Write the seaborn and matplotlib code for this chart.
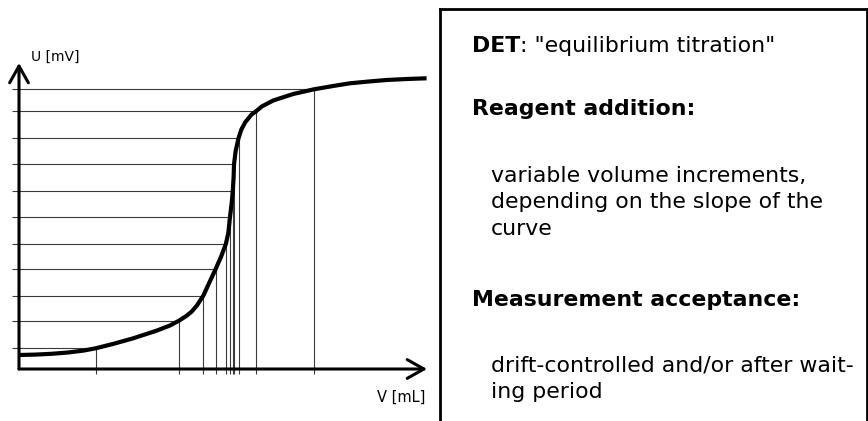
import matplotlib
matplotlib.use("Agg")
import matplotlib.pyplot as plt
from matplotlib.lines import Line2D
import seaborn as sns

sns.set_style("white")
plt.rcParams["font.family"] = ["DejaVu Sans"]
plt.rcParams["text.color"] = "black"

# Titration curve: potential U [mV] against added volume V [mL]
curve_v = [0.00, 0.40, 0.80, 1.20, 1.58, 1.88, 2.30, 2.80, 3.37, 3.70, 3.92,
           4.10, 4.23, 4.36, 4.52, 4.66, 4.82, 4.95, 5.07, 5.13, 5.17, 5.21,
           5.24, 5.26, 5.27, 5.31, 5.38, 5.45, 5.55, 5.70, 5.81, 5.95, 6.23,
           6.72, 7.23, 7.70, 8.11, 8.60, 9.01, 9.50, 9.99]
curve_u = [14.0, 14.4, 15.2, 16.5, 18.4, 20.7, 25.0, 30.7, 38.3, 43.5, 48.3,
           53.0, 57.3, 63.5, 73.5, 86.0, 100.0, 112.0, 125.0, 136.0, 151.7, 165.0,
           178.3, 192.0, 204.7, 218.0, 230.7, 239.5, 247.0, 254.5, 257.7, 262.5, 268.5,
           275.0, 279.7, 283.0, 285.7, 287.6, 289.0, 290.0, 290.7]

# Measuring points (volume increments depend on the slope)
point_v = [1.88, 3.92, 4.52, 4.82, 5.07, 5.17, 5.24, 5.27, 5.38, 5.81, 7.23]
point_u = [20.7, 48.3, 73.5, 100.0, 125.0, 151.7, 178.3, 204.7, 230.7, 257.7, 279.7]

x_label = "V [mL]"
y_label = "U [mV]"

W, H = 868, 421
fig = plt.figure(figsize=(W / 100, H / 100), dpi=100)
fig.patch.set_facecolor("white")


def fx(px):
    return px / W


def fy(py):
    return 1 - py / H


ax = fig.add_axes([fx(19), fy(369), 408 / W, 306 / H])
ax.set_xlim(0, 10)
ax.set_ylim(0, 306)
ax.axis("off")

# guide lines from each measuring point to the axes
ax.hlines(point_u, -0.18, point_v, color="#3a3a3a", lw=0.8, clip_on=False, zorder=1)
ax.vlines(point_v, -4.5, point_u, color="#3a3a3a", lw=0.8, clip_on=False, zorder=1)

# axes drawn as arrows
arrow_kw = dict(arrowstyle="->,head_length=0.8,head_width=0.45", lw=2.2,
                color="black", shrinkA=0, shrinkB=0, mutation_scale=15)
ax.annotate("", xy=(10.0, 0), xytext=(0, 0), arrowprops=arrow_kw,
            annotation_clip=False, zorder=4)
ax.annotate("", xy=(0, 306), xytext=(0, 0), arrowprops=arrow_kw,
            annotation_clip=False, zorder=4)

sns.lineplot(x=curve_v, y=curve_u, sort=False, estimator=None, color="black",
             lw=3.0, ax=ax, zorder=3)
for ln in ax.lines:
    ln.set_solid_joinstyle("round")
    ln.set_solid_capstyle("butt")

fig.text(fx(31), fy(61), y_label, fontsize=10, va="baseline", ha="left")
fig.text(fx(425), fy(402), x_label, fontsize=10.5, va="baseline", ha="right")

# description panel frame
for xs, ys in [([440, 440], [9, 421]), ([440, 867], [9, 9]), ([867, 867], [9, 421])]:
    fig.add_artist(Line2D([fx(v) for v in xs], [fy(v) for v in ys],
                          transform=fig.transFigure, color="black", lw=2,
                          solid_capstyle="projecting"))

FS = 15.8
t_det = fig.text(fx(472), fy(51.7), "DET", fontsize=FS, fontweight="bold",
                 va="baseline", ha="left")
ax.annotate(': "equilibrium titration"', xy=(1, 0), xycoords=t_det,
            fontsize=FS, va="bottom", ha="left", annotation_clip=False)

fig.text(fx(472), fy(115), "Reagent addition:", fontsize=FS, fontweight="bold",
         va="baseline", ha="left")
body1 = ["variable volume increments,", "depending on the slope of the", "curve"]
for i, line in enumerate(body1):
    fig.text(fx(491), fy(182 + 26.5 * i), line, fontsize=FS, va="baseline", ha="left")

fig.text(fx(472), fy(306.5), "Measurement acceptance:", fontsize=FS,
         fontweight="bold", va="baseline", ha="left")
body2 = ["drift-controlled and/or after wait-", "ing period"]
for i, line in enumerate(body2):
    fig.text(fx(491), fy(371.5 + 26 * i), line, fontsize=FS, va="baseline", ha="left")

fig.savefig("out.png", dpi=100, facecolor="white")
